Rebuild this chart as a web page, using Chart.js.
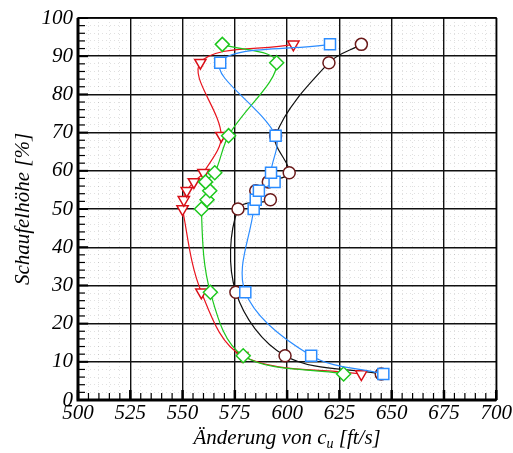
<!DOCTYPE html>
<html>
<head>
<meta charset="utf-8">
<script src="https://cdn.jsdelivr.net/npm/chart.js@4"></script>
<style>
  html, body { margin: 0; padding: 0; background: #fff; }
  #wrap { width: 513px; height: 453px; }
</style>
</head>
<body>
<div id="wrap"><canvas id="profile"></canvas></div>
<script>
// blade height positions [%], shared by all four traverses
const heights = [6.8, 11.6, 28.2, 50, 52.4, 54.8, 57.1, 59.5, 69.2, 88.3, 93.1];

// change of c_u [ft/s] per traverse
const circleSeries = [645, 599, 575.5, 576.5, 592, 585, 591, 601, 594.5, 620, 635.5];
const squareSeries = [646, 611.5, 580, 584, 585, 586.5, 594, 592.3, 594.5, 568, 620.5];
const diamondSeries = [627, 579, 563.3, 559, 561.7, 563, 561, 565.4, 572, 595, 569];
const triangleSeries = [635.5, 578.5, 559, 550, 550.6, 552, 555.4, 560, 568.5, 558.5, 603];

const xTicks = [500, 525, 550, 575, 600, 625, 650, 675, 700];
const yTicks = [0, 10, 20, 30, 40, 50, 60, 70, 80, 90, 100];

const FONT = 'italic 21px "Liberation Serif", "DejaVu Serif", serif';
const SUB = 'italic 14px "Liberation Serif", "DejaVu Serif", serif';

function pts(xs) {
    return xs.map((v, i) => ({ x: v, y: heights[i] }));
}

function series(xs, line, edge, shape, r, extra) {
    return Object.assign({
        data: pts(xs),
        showLine: true,
        borderColor: line,
        borderWidth: 1.2,
        tension: 0.35,
        pointStyle: shape,
        pointRadius: r,
        pointBorderColor: edge,
        pointBorderWidth: 1.5,
        pointBackgroundColor: '#fff'
    }, extra || {});
}

// inward tick marks, frame and axis titles
const decor = {
    id: 'decor',
    beforeDatasetsDraw(chart) {
        const { ctx, chartArea: a, scales: { x, y } } = chart;
        ctx.save();
        ctx.strokeStyle = '#000';
        for (let v = 0; v <= 100; v += 2) {
            const p = y.getPixelForValue(v);
            const major = v % 10 === 0;
            ctx.lineWidth = major ? 2 : 1.2;
            ctx.beginPath();
            ctx.moveTo(a.left, p);
            ctx.lineTo(a.left + (major ? 10 : 7), p);
            ctx.stroke();
        }
        for (let v = 500; v <= 700; v += 5) {
            const p = x.getPixelForValue(v);
            const major = v % 25 === 0;
            ctx.lineWidth = major ? 2.5 : 1.2;
            ctx.beginPath();
            ctx.moveTo(p, a.bottom);
            ctx.lineTo(p, a.bottom - (major ? 10 : 7));
            ctx.stroke();
        }
        ctx.lineWidth = 1.5;
        ctx.strokeRect(a.left, a.top, a.right - a.left, a.bottom - a.top);
        ctx.lineWidth = 3;
        ctx.beginPath();
        ctx.moveTo(a.left, a.top);
        ctx.lineTo(a.left, a.bottom);
        ctx.lineTo(a.right, a.bottom);
        ctx.stroke();
        ctx.restore();
    },
    afterDraw(chart) {
        const { ctx, chartArea: a } = chart;
        ctx.save();
        ctx.fillStyle = '#000';
        ctx.textBaseline = 'alphabetic';

        // x title with subscript u
        const p1 = 'Änderung von c', p2 = 'u', p3 = ' [ft/s]';
        ctx.font = FONT;
        const w1 = ctx.measureText(p1).width;
        const w3 = ctx.measureText(p3).width;
        ctx.font = SUB;
        const w2 = ctx.measureText(p2).width;
        let cx = (a.left + a.right) / 2 - (w1 + w2 + w3) / 2;
        const base = 444;
        ctx.font = FONT;
        ctx.fillText(p1, cx, base);
        cx += w1;
        ctx.font = SUB;
        ctx.fillText(p2, cx, base + 4);
        cx += w2;
        ctx.font = FONT;
        ctx.fillText(p3, cx, base);

        // y title
        ctx.translate(29, (a.top + a.bottom) / 2);
        ctx.rotate(-Math.PI / 2);
        ctx.textAlign = 'center';
        ctx.fillText('Schaufelhöhe [%]', 0, 0);
        ctx.restore();
    }
};

new Chart(document.getElementById('profile'), {
    type: 'scatter',
    data: {
        datasets: [
            series(squareSeries, '#2b8cff', '#2b8cff', 'rect', 7.8),
            series(diamondSeries, '#1ec81e', '#1ec81e', 'rectRot', 7),
            series(triangleSeries, '#e8141e', '#d81018', 'triangle', 6.5, { pointRotation: 180 }),
            series(circleSeries, '#111', '#6a1a1a', 'circle', 6)
        ]
    },
    options: {
        responsive: true,
        maintainAspectRatio: false,
        animation: false,
        layout: { padding: { top: 18, right: 16, left: 0, bottom: 0 } },
        plugins: { legend: { display: false }, tooltip: { enabled: false } },
        scales: {
            x: {
                type: 'linear',
                min: 500,
                max: 700,
                afterFit(s) { s.height = 53; },
                afterBuildTicks(s) {
                    s.ticks = [];
                    for (let v = 500; v <= 700; v += 5) s.ticks.push({ value: v });
                },
                ticks: {
                    autoSkip: false,
                    maxRotation: 0,
                    padding: 1,
                    color: '#000',
                    font: { family: '"Liberation Serif", serif', style: 'italic', size: 21 },
                    callback: v => xTicks.includes(v) ? String(v) : ''
                },
                grid: {
                    drawTicks: false,
                    color: c => c.tick && c.tick.value % 25 === 0 ? '#111' : 'rgba(0,0,0,0.12)',
                    lineWidth: c => c.tick && c.tick.value % 25 === 0 ? 1.4 : 1
                },
                border: {
                    display: false,
                    dash: c => c.tick && c.tick.value % 25 === 0 ? [] : [1, 3]
                }
            },
            y: {
                type: 'linear',
                min: 0,
                max: 100,
                afterFit(s) { s.width = 78; },
                afterBuildTicks(s) {
                    s.ticks = [];
                    for (let v = 0; v <= 100; v += 2) s.ticks.push({ value: v });
                },
                ticks: {
                    autoSkip: false,
                    padding: 5,
                    color: '#000',
                    font: { family: '"Liberation Serif", serif', style: 'italic', size: 21 },
                    callback: v => yTicks.includes(v) ? String(v) : ''
                },
                grid: {
                    drawTicks: false,
                    color: c => c.tick && c.tick.value % 10 === 0 ? '#111' : 'rgba(0,0,0,0.12)',
                    lineWidth: c => c.tick && c.tick.value % 10 === 0 ? 1.4 : 1
                },
                border: {
                    display: false,
                    dash: c => c.tick && c.tick.value % 10 === 0 ? [] : [1, 3]
                }
            }
        }
    },
    plugins: [decor]
});
</script>
</body>
</html>
